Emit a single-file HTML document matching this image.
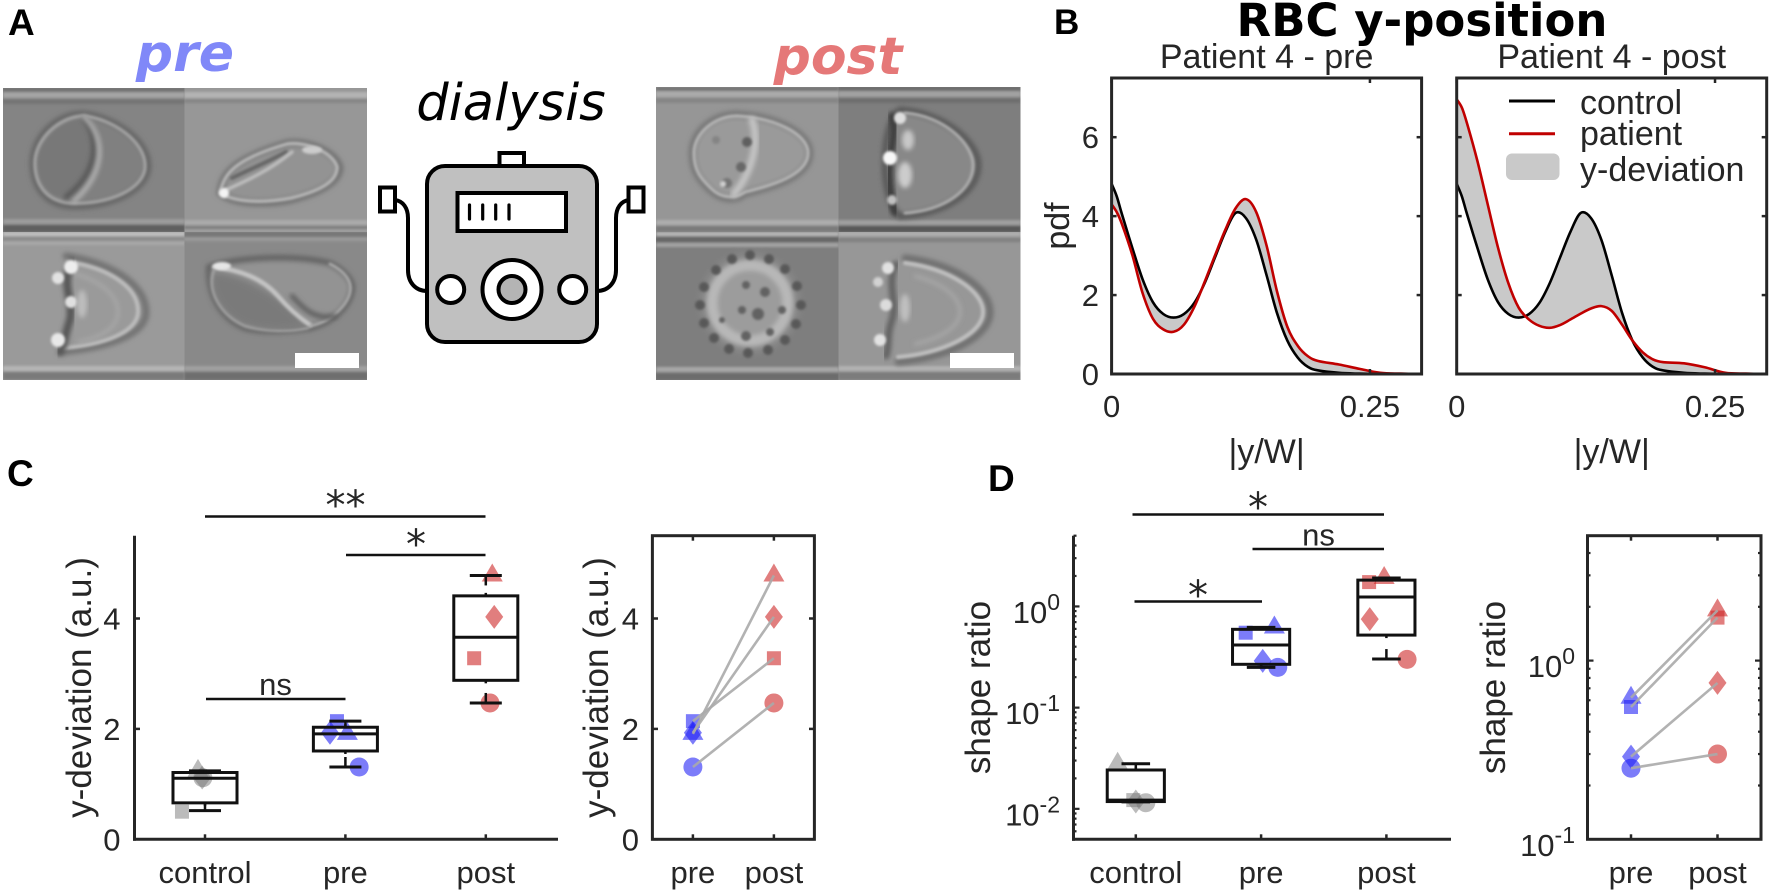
<!DOCTYPE html>
<html lang="en">
<head>
<meta charset="utf-8">
<title>RBC y-position dialysis figure</title>
<style>
html,body{margin:0;padding:0;background:#fff;}
svg{display:block;}
text{font-family:"Liberation Sans",Arial,sans-serif;fill:#262626;}
.dj{font-family:"DejaVu Sans",sans-serif;}
.wall{filter:url(#b1);}
.rim{fill:none;stroke-linecap:round;stroke-linejoin:round;}
</style>
</head>
<body>
<svg id="figure" width="1772" height="893" viewBox="0 0 1772 893" xmlns="http://www.w3.org/2000/svg">
<defs>
<filter id="b1" x="-20%" y="-20%" width="140%" height="140%"><feGaussianBlur stdDeviation="1.4"/></filter>
<filter id="b2" x="-20%" y="-20%" width="140%" height="140%"><feGaussianBlur stdDeviation="2.4"/></filter>
<filter id="b3" x="-30%" y="-30%" width="160%" height="160%"><feGaussianBlur stdDeviation="3.5"/></filter>
<clipPath id="clip-a"><rect x="3" y="88" width="181.5" height="144"/></clipPath>
<clipPath id="clip-b"><rect x="184.5" y="88" width="182.5" height="144"/></clipPath>
<clipPath id="clip-c"><rect x="3" y="232" width="181.5" height="148"/></clipPath>
<clipPath id="clip-d"><rect x="184.5" y="232" width="182.5" height="148"/></clipPath>
<clipPath id="clip-e"><rect x="656" y="87" width="182.5" height="145"/></clipPath>
<clipPath id="clip-f"><rect x="838.5" y="87" width="182" height="145"/></clipPath>
<clipPath id="clip-g"><rect x="656" y="232" width="182.5" height="148"/></clipPath>
<clipPath id="clip-h"><rect x="838.5" y="232" width="182" height="148"/></clipPath>
</defs>
<rect x="0" y="0" width="1772" height="893" fill="#ffffff"/>

<text x="8" y="35" font-size="37" font-weight="700" style="fill:#000">A</text>
<text x="1054" y="34" font-size="35" font-weight="700" style="fill:#000">B</text>
<text x="7" y="486" font-size="37" font-weight="700" style="fill:#000">C</text>
<text x="988" y="491" font-size="37" font-weight="700" style="fill:#000">D</text>
<text class="dj" x="185" y="71" text-anchor="middle" font-size="52" font-weight="700" font-style="italic" style="fill:#8088f8">pre</text>
<text class="dj" x="838" y="74" text-anchor="middle" font-size="52" font-weight="700" font-style="italic" style="fill:#e57878">post</text>
<text class="dj" x="511" y="120" text-anchor="middle" font-size="51" font-style="italic" style="fill:#000">dialysis</text>

<g>
  <g clip-path="url(#clip-a)">
    <rect x="3" y="88" width="181.5" height="144" fill="#848484"/>
    <g class="wall"><rect x="3" y="88" width="182" height="4" fill="#707070"/><rect x="3" y="92" width="182" height="6" fill="#a4a4a4"/><rect x="3" y="99" width="182" height="5" fill="#757575"/><rect x="3" y="219" width="182" height="5" fill="#9c9c9c"/><rect x="3" y="225" width="182" height="7" fill="#5e5e5e"/></g>
    <path d="M84 114C112 117 148 139 148 166C148 191 108 208 70 206C45 204 33 186 33 163C33 136 58 113 84 114Z" fill="#808080" stroke="#666" stroke-width="7" filter="url(#b2)"/>
    <path d="M84 117C106 133 106 171 68 199C45 199 36 183 36 163C36 139 60 117 84 117Z" fill="#787878" filter="url(#b2)"/>
    <path class="rim" d="M84 116C112 119 145 141 145 166C145 189 108 205 70 203C47 201 35 185 35 163C35 139 60 116 84 116" stroke="#a2a2a2" stroke-width="3.5" filter="url(#b1)"/>
    <path class="rim" d="M84 119C100 139 98 173 66 197" stroke="#575757" stroke-width="5" filter="url(#b2)"/>
    <path class="rim" d="M84 117C106 137 106 173 74 201" stroke="#b8b8b8" stroke-width="4" filter="url(#b2)"/>
  </g>
  <g clip-path="url(#clip-b)">
    <rect x="184.5" y="88" width="182.5" height="144" fill="#979797"/>
    <g class="wall"><rect x="184" y="92" width="184" height="6" fill="#b4b4b4"/><rect x="184" y="99" width="184" height="4" fill="#858585"/><rect x="184" y="220" width="184" height="5" fill="#aaaaaa"/><rect x="184" y="226" width="184" height="3" fill="#7c7c7c"/><rect x="184" y="229" width="184" height="3" fill="#a0a0a0"/></g>
    <path d="M220 193C222 175 230 160 287 143C305 140 335 150 340 167C340 178 330 190 291 200C270 204 235 206 220 193Z" fill="#939393" stroke="#727272" stroke-width="7" filter="url(#b2)"/>
    <path class="rim" d="M220 193C224 175 232 160 287 144C305 141 333 152 337 167C337 178 328 189 291 198C270 202 238 204 220 193Z" stroke="#b6b6b6" stroke-width="3.5" filter="url(#b1)"/>
    <path class="rim" d="M232 178C248 170 268 162 286 152" stroke="#666" stroke-width="4" filter="url(#b1)"/>
    <path class="rim" d="M226 190C248 180 270 170 292 152" stroke="#bebebe" stroke-width="3.5" filter="url(#b1)"/>
    <circle cx="224" cy="193" r="5" fill="#f4f4f4" filter="url(#b1)"/><ellipse cx="312" cy="150" rx="10" ry="4" fill="#cccccc" filter="url(#b1)"/>
  </g>
  <g clip-path="url(#clip-c)">
    <rect x="3" y="232" width="181.5" height="148" fill="#9a9a9a"/>
    <g class="wall"><rect x="3" y="232" width="182" height="4" fill="#c0c0c0"/><rect x="3" y="237" width="182" height="4" fill="#8a8a8a"/><rect x="3" y="241" width="182" height="4" fill="#a8a8a8"/><rect x="3" y="366" width="182" height="5" fill="#b6b6b6"/><rect x="3" y="372" width="182" height="8" fill="#7a7a7a"/></g>
    <path class="rim" d="M66 256C112 263 146 285 146 312C146 336 104 348 60 352" stroke="#737373" stroke-width="7" filter="url(#b2)"/>
    <path class="rim" d="M68 262C110 268 138 288 138 311C138 333 102 345 62 348" stroke="#bcbcbc" stroke-width="4" filter="url(#b1)"/>
    <path class="rim" d="M76 274C102 282 118 296 118 312C118 328 100 338 78 342" stroke="#b0b0b0" stroke-width="2" filter="url(#b2)"/>
    <path class="rim" d="M72 262C60 285 74 300 70 320C64 336 66 342 60 352" stroke="#565656" stroke-width="8" filter="url(#b2)"/>
    <circle cx="71" cy="267" r="7" fill="#ededed" filter="url(#b1)"/><circle cx="58" cy="278" r="6" fill="#e2e2e2" filter="url(#b1)"/><circle cx="71" cy="302" r="6" fill="#e0e0e0" filter="url(#b1)"/><circle cx="58" cy="340" r="7" fill="#e8e8e8" filter="url(#b1)"/>
    <ellipse cx="82" cy="304" rx="5" ry="14" fill="#bdbdbd" filter="url(#b2)"/>
  </g>
  <g clip-path="url(#clip-d)">
    <rect x="184.5" y="232" width="182.5" height="148" fill="#898989"/>
    <g class="wall"><rect x="184" y="232" width="184" height="5" fill="#777"/><rect x="184" y="237" width="184" height="4" fill="#9a9a9a"/><rect x="184" y="366" width="184" height="5" fill="#a0a0a0"/><rect x="184" y="372" width="184" height="8" fill="#6e6e6e"/></g>
    <path d="M209 267C235 258 290 254 329 263C345 270 354 282 352 290C350 305 335 322 310 328C280 332 260 332 245 328C225 320 208 300 209 267Z" fill="#939393" stroke="#646464" stroke-width="6" filter="url(#b2)"/>
    <path d="M212 272C240 272 280 295 308 326C280 332 255 330 240 324C222 314 208 295 212 272Z" fill="#7a7a7a" filter="url(#b3)"/>
    <path class="rim" d="M214 267C240 270 262 278 278 296C290 310 300 318 310 325" stroke="#c4c4c4" stroke-width="4.5" filter="url(#b1)"/>
    <path class="rim" d="M330 264C346 272 352 282 350 292C347 306 330 322 310 326" stroke="#aaaaaa" stroke-width="3" filter="url(#b1)"/>
    <path class="rim" d="M214 270C206 292 222 316 245 326C265 332 290 332 308 328" stroke="#a4a4a4" stroke-width="2.5" filter="url(#b1)"/>
    <path class="rim" d="M292 296C305 310 315 320 335 316" stroke="#5c5c5c" stroke-width="4.5" filter="url(#b2)"/>
    <ellipse cx="222" cy="266" rx="9" ry="4" fill="#e6e6e6" filter="url(#b1)"/>
    <rect x="295" y="353" width="64" height="15" fill="#ffffff"/>
  </g>
</g>

<g>
  <g clip-path="url(#clip-e)">
    <rect x="656" y="87" width="182.5" height="145" fill="#969696"/>
    <g class="wall"><rect x="656" y="87" width="183" height="4" fill="#727272"/><rect x="656" y="91" width="183" height="6" fill="#aaaaaa"/><rect x="656" y="98" width="183" height="5" fill="#858585"/><rect x="656" y="220" width="183" height="5" fill="#aeaeae"/><rect x="656" y="226" width="183" height="6" fill="#7a7a7a"/></g>
    <path d="M737 114C775 116 810 132 810 153C810 178 770 188 745 194C735 202 722 200 712 192C698 180 692 170 692 153C692 132 712 114 737 114Z" fill="#9a9a9a" stroke="#787878" stroke-width="7" filter="url(#b2)"/>
    <path class="rim" d="M737 116C775 118 808 134 808 153C808 176 768 186 745 192C735 199 722 198 713 190C700 178 694 170 694 153C694 134 714 116 737 116Z" stroke="#b8b8b8" stroke-width="3" filter="url(#b1)"/>
    <path class="rim" d="M752 120C760 142 752 172 734 194" stroke="#c4c4c4" stroke-width="7" filter="url(#b2)"/>
    <circle cx="747" cy="142" r="5" fill="#5e5e5e" filter="url(#b1)"/><circle cx="741" cy="167" r="5" fill="#686868" filter="url(#b1)"/><circle cx="727" cy="183" r="5" fill="#747474" filter="url(#b1)"/><circle cx="716" cy="140" r="4" fill="#848484" filter="url(#b1)"/>
    <circle cx="723" cy="184" r="3" fill="#d2d2d2" filter="url(#b1)"/>
  </g>
  <g clip-path="url(#clip-f)">
    <rect x="838.5" y="87" width="182" height="145" fill="#7e7e7e"/>
    <g class="wall"><rect x="838" y="87" width="183" height="4" fill="#6a6a6a"/><rect x="838" y="91" width="183" height="6" fill="#a2a2a2"/><rect x="838" y="98" width="183" height="5" fill="#6e6e6e"/><rect x="838" y="220" width="183" height="5" fill="#a0a0a0"/><rect x="838" y="226" width="183" height="6" fill="#585858"/></g>
    <path d="M900 110C945 113 978 143 978 165C978 192 945 214 900 216C880 200 880 125 900 110Z" fill="#888888" stroke="#5a5a5a" stroke-width="7" filter="url(#b2)"/>
    <path class="rim" d="M905 113C945 116 973 145 973 165C973 190 945 210 905 213" stroke="#b0b0b0" stroke-width="3" filter="url(#b1)"/>
    <path class="rim" d="M892 116C900 140 880 160 895 212" stroke="#3e3e3e" stroke-width="8" filter="url(#b2)"/>
    <circle cx="900" cy="118" r="6" fill="#dedede" filter="url(#b1)"/><circle cx="890" cy="158" r="7" fill="#f8f8f8" filter="url(#b1)"/><ellipse cx="908" cy="140" rx="6" ry="10" fill="#c8c8c8" filter="url(#b2)"/><ellipse cx="905" cy="175" rx="7" ry="13" fill="#cccccc" filter="url(#b2)"/><circle cx="892" cy="200" r="5" fill="#c0c0c0" filter="url(#b1)"/>
  </g>
  <g clip-path="url(#clip-g)">
    <rect x="656" y="232" width="182.5" height="148" fill="#7e7e7e"/>
    <g class="wall"><rect x="656" y="232" width="183" height="4" fill="#b8b8b8"/><rect x="656" y="237" width="183" height="5" fill="#666"/><rect x="656" y="243" width="183" height="4" fill="#a4a4a4"/><rect x="656" y="367" width="183" height="5" fill="#a8a8a8"/><rect x="656" y="373" width="183" height="7" fill="#6c6c6c"/></g>
    <circle cx="750" cy="303" r="50" fill="#8a8a8a" filter="url(#b3)"/>
    <circle cx="750" cy="303" r="38" fill="#9c9c9c" stroke="#b8b8b8" stroke-width="11" filter="url(#b2)"/>
    <g fill="#585858" filter="url(#b1)"><circle cx="750" cy="255" r="5"/><circle cx="769" cy="259" r="5"/><circle cx="785" cy="269" r="5"/><circle cx="797" cy="286" r="5"/><circle cx="801" cy="305" r="5"/><circle cx="796" cy="324" r="5"/><circle cx="785" cy="340" r="5"/><circle cx="768" cy="350" r="5"/><circle cx="748" cy="353" r="5"/><circle cx="729" cy="349" r="5"/><circle cx="714" cy="338" r="5"/><circle cx="704" cy="323" r="5"/><circle cx="700" cy="305" r="5"/><circle cx="704" cy="287" r="5"/><circle cx="716" cy="270" r="5"/><circle cx="732" cy="259" r="5"/></g>
    <g fill="#626262" filter="url(#b1)"><circle cx="746" cy="285" r="4"/><circle cx="765" cy="292" r="5"/><circle cx="742" cy="310" r="4"/><circle cx="758" cy="314" r="6"/><circle cx="782" cy="310" r="4"/><circle cx="770" cy="332" r="4"/><circle cx="746" cy="336" r="5"/><circle cx="722" cy="320" r="3"/></g>
  </g>
  <g clip-path="url(#clip-h)">
    <rect x="838.5" y="232" width="182" height="148" fill="#979797"/>
    <g class="wall"><rect x="838" y="232" width="183" height="4" fill="#b0b0b0"/><rect x="838" y="238" width="183" height="4" fill="#808080"/><rect x="838" y="366" width="183" height="5" fill="#b2b2b2"/><rect x="838" y="372" width="183" height="8" fill="#7c7c7c"/></g>
    <path class="rim" d="M905 258C955 264 990 288 990 312C990 338 945 358 898 362" stroke="#707070" stroke-width="7" filter="url(#b2)"/>
    <path class="rim" d="M905 263C950 269 983 291 983 312C983 334 943 353 898 357" stroke="#c0c0c0" stroke-width="4" filter="url(#b1)"/>
    <path class="rim" d="M915 276C945 284 960 298 960 312C960 326 942 338 915 344" stroke="#b2b2b2" stroke-width="2" filter="url(#b2)"/>
    <path class="rim" d="M896 264C886 285 898 300 892 320C886 336 890 345 886 356" stroke="#626262" stroke-width="7" filter="url(#b2)"/>
    <circle cx="888" cy="268" r="6" fill="#e2e2e2" filter="url(#b1)"/><circle cx="878" cy="282" r="5" fill="#d2d2d2" filter="url(#b1)"/><circle cx="886" cy="305" r="6" fill="#dcdcdc" filter="url(#b1)"/><circle cx="880" cy="340" r="6" fill="#e2e2e2" filter="url(#b1)"/><ellipse cx="905" cy="308" rx="5" ry="14" fill="#c0c0c0" filter="url(#b2)"/>
    <rect x="950" y="353" width="64" height="15" fill="#ffffff"/>
  </g>
</g>

<g stroke="#000" stroke-width="4">
  <rect x="499.5" y="153" width="24.5" height="14" fill="#fff"/>
  <rect x="427" y="166" width="170" height="176" rx="18" fill="#c0c0c0"/>
  <rect x="457.5" y="193" width="108.5" height="38" fill="#fff"/>
  <g stroke-width="3.2" stroke-linecap="round"><line x1="469.5" y1="205" x2="469.5" y2="219"/><line x1="482.7" y1="205" x2="482.7" y2="219"/><line x1="495.7" y1="205" x2="495.7" y2="219"/><line x1="509" y1="205" x2="509" y2="219"/></g>
  <circle cx="450.7" cy="289.5" r="13.5" fill="#fff"/>
  <circle cx="572.7" cy="289.5" r="13.5" fill="#fff"/>
  <circle cx="512" cy="289.5" r="29.5" fill="#fff"/>
  <circle cx="512" cy="289.5" r="13.5" fill="#b4b4b4"/>
  <path d="M395 200C403 201 408 208 408 218V270C408 283 416 291 427 291" fill="none"/>
  <path d="M629 200C621 201 616 208 616 218V270C616 283 608 291 597 291" fill="none"/>
  <rect x="380" y="187.5" width="15" height="24" fill="#fff"/>
  <rect x="628.5" y="187.5" width="15" height="24" fill="#fff"/>
</g>

<text class="dj" x="1422" y="36" text-anchor="middle" font-size="45" font-weight="700" style="fill:#000">RBC y-position</text>

<g id="charts"></g>

<g stroke="#111" stroke-width="2.6">
  <line x1="205" y1="516.5" x2="485.5" y2="516.5"/>
  <line x1="346" y1="555" x2="485.5" y2="555"/>
  <line x1="206" y1="699" x2="345.5" y2="699"/>
</g>
<text class="dj" x="345.5" y="519" text-anchor="middle" font-size="40">**</text>
<text class="dj" x="416" y="558" text-anchor="middle" font-size="40">*</text>
<text x="275.5" y="695" text-anchor="middle" font-size="31">ns</text>
<g stroke="#111" stroke-width="2.6">
  <line x1="1132.5" y1="514.5" x2="1384" y2="514.5"/>
  <line x1="1252.5" y1="549" x2="1384" y2="549"/>
  <line x1="1134.5" y1="601.5" x2="1262" y2="601.5"/>
</g>
<text class="dj" x="1258" y="521" text-anchor="middle" font-size="40">*</text>
<text x="1318.5" y="545.5" text-anchor="middle" font-size="31">ns</text>
<text class="dj" x="1198" y="609" text-anchor="middle" font-size="40">*</text>

<script>
// ---- Panel B data ----
const pdfX = [0,.005,.01,.02,.03,.04,.05,.06,.07,.08,.09,.10,.11,.12,.13,.14,.15,.16,.17,.18,.19,.20,.22,.24,.26,.28,.30];
const controlPdf = [4.82,4.5,4.05,3.2,2.4,1.82,1.52,1.43,1.52,1.8,2.3,2.95,3.6,4.08,3.95,3.4,2.5,1.55,.85,.42,.18,.09,.03,.01,0,0,0];
const prePdf = [4.3,4.1,3.8,3.02,2.05,1.4,1.13,1.07,1.25,1.7,2.33,3.0,3.65,4.2,4.43,4.1,3.25,2.1,1.2,.72,.45,.33,.24,.13,.03,.01,0];
const postPdf = [6.96,6.75,6.35,5.4,4.3,3.2,2.3,1.68,1.38,1.22,1.17,1.24,1.38,1.53,1.66,1.72,1.6,1.25,.85,.55,.37,.3,.27,.17,.03,.01,0];
const pdfTicks = [0,2,4,6];
const pdfXTicks = [0,0.25];
const pdfXTickLabels = ['0','0.25'];

// ---- Panel C data ----
const categories = ['control','pre','post'];
const pairedCategories = ['pre','post'];
const devLowCap = [.52,1.31,2.47];
const devQ1 = [.66,1.6,2.88];
const devMedian = [1.105,1.91,3.66];
const devQ3 = [1.21,2.03,4.41];
const devHighCap = [1.24,2.14,4.78];
const devSquare = [.5,2.14,3.28];
const devDiamond = [1.12,1.93,4.03];
const devTriangle = [1.24,1.91,4.78];
const devCircle = [1.115,1.31,2.47];
const devSquareJitter = [-.164,-.06,-.083];
const devDiamondJitter = [-.02,-.11,.06];
const devTriangleJitter = [-.05,.014,.046];
const devCircleJitter = [-.015,.098,.03];
const devTicks = [0,2,4];

// ---- Panel D data ----
const ratioLowCap = [.0117,.25,.302];
const ratioQ1 = [.0118,.268,.521];
const ratioMedian = [.0122,.416,1.24];
const ratioQ3 = [.0242,.594,1.82];
const ratioHighCap = [.0279,.621,1.91];
const ratioSquare = [.0122,.55,1.74];
const ratioDiamond = [.0118,.29,.75];
const ratioTriangle = [.0279,.62,1.91];
const ratioCircle = [.0115,.25,.30];
const ratioSquareJitter = [-.02,-.123,-.138];
const ratioDiamondJitter = [0,.013,-.133];
const ratioTriangleJitter = [-.145,.106,-.018];
const ratioCircleJitter = [.08,.133,.165];
const ratioDecades = [-2,-1,0];
const pairedRatioDecades = [-1,0];

const NS = 'http://www.w3.org/2000/svg';
const root = document.getElementById('charts');
const INK = '#262626';
const TICK_FONT = 31;
const TITLE_FONT = 35;
const groupFill = ['rgba(120,120,120,.5)','rgba(30,30,245,.58)','rgba(205,40,40,.6)'];

function mk(tag, parent) {
  const e = document.createElementNS(NS, tag);
  (parent || root).appendChild(e);
  return e;
}
function seg(x1, y1, x2, y2, w, color, name) {
  const l = mk('line');
  l.setAttribute('x1', x1); l.setAttribute('y1', y1);
  l.setAttribute('x2', x2); l.setAttribute('y2', y2);
  l.setAttribute('stroke', color); l.setAttribute('stroke-width', w);
  
  
  return l;
}
function label(str, x, y, size, anchor, name, rotate) {
  const t = mk('text');
  t.textContent = str;
  t.setAttribute('x', x); t.setAttribute('y', y);
  t.setAttribute('font-size', size);
  t.setAttribute('text-anchor', anchor);
  if (rotate) t.setAttribute('transform', 'rotate(-90 ' + x + ' ' + y + ')');
  
  
  return t;
}
function powerLabel(exp, right, y, size, name) {
  const t = mk('text');
  t.setAttribute('x', right); t.setAttribute('y', y);
  t.setAttribute('font-size', size);
  t.setAttribute('text-anchor', 'end');
  
  
  t.appendChild(document.createTextNode('10'));
  const s = document.createElementNS(NS, 'tspan');
  s.setAttribute('dy', -13);
  s.setAttribute('font-size', 23);
  s.textContent = String(exp);
  t.appendChild(s);
}
function marker(shape, cx, cy, fill, name) {
  let m;
  if (shape === 'circle') {
    m = mk('circle');
    m.setAttribute('cx', cx); m.setAttribute('cy', cy); m.setAttribute('r', 9.5);
  } else if (shape === 'square') {
    m = mk('rect');
    m.setAttribute('x', cx - 7); m.setAttribute('y', cy - 7);
    m.setAttribute('width', 14); m.setAttribute('height', 14);
  } else if (shape === 'diamond') {
    m = mk('polygon');
    m.setAttribute('points', [cx, cy - 12, cx + 9, cy, cx, cy + 12, cx - 9, cy].join(' '));
  } else {
    m = mk('polygon');
    m.setAttribute('points', [cx, cy - 12, cx + 10.5, cy + 6, cx - 10.5, cy + 6].join(' '));
  }
  m.setAttribute('fill', fill);
  
  
}
function smooth(pts, moveFirst) {
  let d = (moveFirst ? 'M' : 'L') + pts[0][0].toFixed(2) + ' ' + pts[0][1].toFixed(2);
  for (let i = 0; i < pts.length - 1; i++) {
    const p0 = pts[Math.max(i - 1, 0)], p1 = pts[i], p2 = pts[i + 1], p3 = pts[Math.min(i + 2, pts.length - 1)];
    const c1x = p1[0] + (p2[0] - p0[0]) / 6, c1y = p1[1] + (p2[1] - p0[1]) / 6;
    const c2x = p2[0] - (p3[0] - p1[0]) / 6, c2y = p2[1] - (p3[1] - p1[1]) / 6;
    d += 'C' + c1x.toFixed(2) + ' ' + c1y.toFixed(2) + ' ' + c2x.toFixed(2) + ' ' + c2y.toFixed(2) + ' ' + p2[0].toFixed(2) + ' ' + p2[1].toFixed(2);
  }
  return d;
}
function frame(l, t, r, b, name) {
  const f = mk('rect');
  f.setAttribute('x', l); f.setAttribute('y', t);
  f.setAttribute('width', r - l); f.setAttribute('height', b - t);
  f.setAttribute('fill', 'none');
  f.setAttribute('stroke', INK); f.setAttribute('stroke-width', 3);
  
  
}

// ---- Panel B ----
function drawPdfPanel(left, patient, panelName) {
  const right = left + 310, top = 78, bottom = 374;
  const sx = v => left + v / 0.3 * (right - left);
  const sy = v => bottom - v / 7.5 * (bottom - top);
  const ctrl = pdfX.map((x, i) => [sx(x), sy(controlPdf[i])]);
  const pat = pdfX.map((x, i) => [sx(x), sy(patient[i])]);
  const area = mk('path');
  area.setAttribute('d', smooth(ctrl, true) + smooth(pat.slice().reverse(), false) + 'Z');
  area.setAttribute('fill', '#c9c9c9');
  
  
  const c = mk('path');
  c.setAttribute('d', smooth(ctrl, true));
  c.setAttribute('fill', 'none'); c.setAttribute('stroke', '#000'); c.setAttribute('stroke-width', 2.6);
  
  
  const p = mk('path');
  p.setAttribute('d', smooth(pat, true));
  p.setAttribute('fill', 'none'); p.setAttribute('stroke', '#c00000'); p.setAttribute('stroke-width', 2.6);
  
  
  pdfTicks.forEach(v => {
    seg(left, sy(v), left + 5, sy(v), 2.5, INK, 'y-tick');
    seg(right, sy(v), right - 5, sy(v), 2.5, INK, 'y-tick');
  });
  pdfXTicks.forEach((v, i) => {
    seg(sx(v), bottom, sx(v), bottom - 5, 2.5, INK, 'x-tick');
    seg(sx(v), top, sx(v), top + 5, 2.5, INK, 'x-tick');
    label(pdfXTickLabels[i], sx(v), 417, TICK_FONT, 'middle', 'x-tick-label');
  });
  frame(left, top, right, bottom, panelName + '-frame');
  label('|y/W|', (left + right) / 2, 463, 34, 'middle', 'x-axis-title');
  label(panelName === 'pdf-pre' ? 'Patient 4 - pre' : 'Patient 4 - post', (left + right) / 2, 68, 34, 'middle', 'panel-title');
  return sy;
}
const syPre = drawPdfPanel(1111.6, prePdf, 'pdf-pre');
pdfTicks.forEach(v => label(String(v), 1099, syPre(v) + 11, TICK_FONT, 'end', 'y-tick-label'));
label('pdf', 1069, 226, 34, 'middle', 'y-axis-title', true);
drawPdfPanel(1456.7, postPdf, 'pdf-post');
seg(1509, 101, 1555, 101, 3, '#000', 'legend-control-line');
seg(1509, 133.7, 1555, 133.7, 3, '#c00000', 'legend-patient-line');
const legendPatch = mk('rect');
legendPatch.setAttribute('x', 1506); legendPatch.setAttribute('y', 153.5);
legendPatch.setAttribute('width', 53.5); legendPatch.setAttribute('height', 26.5);
legendPatch.setAttribute('rx', 6); legendPatch.setAttribute('fill', '#c9c9c9');


label('control', 1580, 114, 34, 'start', 'legend-control-label');
label('patient', 1580, 145, 34, 'start', 'legend-patient-label');
label('y-deviation', 1580, 181, 34, 'start', 'legend-deviation-label');

// ---- Box and marker helper ----
function drawGroups(sx, sy, step, sets, jitters, stats) {
  const shapes = ['triangle', 'circle', 'diamond', 'square'];
  shapes.forEach((shape, k) => {
    sets[k].forEach((v, i) => {
      marker(shape, sx(i) + jitters[k][i] * step, sy(v), groupFill[i], shape + '-' + categories[i]);
    });
  });
  const half = step * 0.228;
  categories.forEach((cat, i) => {
    const c = sx(i);
    const yLow = sy(stats.low[i]), yQ1 = sy(stats.q1[i]), yMed = sy(stats.med[i]), yQ3 = sy(stats.q3[i]), yHigh = sy(stats.high[i]);
    const box = mk('rect');
    box.setAttribute('x', c - half); box.setAttribute('y', yQ3);
    box.setAttribute('width', half * 2); box.setAttribute('height', yQ1 - yQ3);
    box.setAttribute('fill', 'none'); box.setAttribute('stroke', '#111'); box.setAttribute('stroke-width', 3);
    
    
    seg(c - half, yMed, c + half, yMed, 3, '#111', 'median-' + cat);
    seg(c - half / 2, yHigh, c + half / 2, yHigh, 3, '#111', 'upper-cap-' + cat);
    seg(c - half / 2, yLow, c + half / 2, yLow, 3, '#111', 'lower-cap-' + cat);
    seg(c, yHigh, c, Math.min(yHigh + 10, yQ3), 2.5, '#111', 'upper-whisker-' + cat);
    seg(c, yQ3, c, Math.max(yQ3 - 3, yHigh), 2.5, '#111', 'upper-whisker-' + cat);
    seg(c, yLow, c, Math.max(yLow - 10, yQ1), 2.5, '#111', 'lower-whisker-' + cat);
    seg(c, yQ1, c, Math.min(yQ1 + 3, yLow), 2.5, '#111', 'lower-whisker-' + cat);
  });
}
function drawPaired(sx, sy, pre, post, shape) {
  pre.forEach((v, k) => {
    marker(shape[k], sx(0), sy(v), groupFill[1], 'paired-pre-' + shape[k]);
    marker(shape[k], sx(1), sy(post[k]), groupFill[2], 'paired-post-' + shape[k]);
  });
  pre.forEach((v, k) => {
    seg(sx(0), sy(v), sx(1), sy(post[k]), 2.6, 'rgba(170,170,170,.9)', 'paired-line-' + shape[k]);
  });
}
const pairShapes = ['square', 'diamond', 'triangle', 'circle'];

// ---- Panel C ----
const axisTop = 535.7, axisBottom = 839.3;
const syDev = v => axisBottom - v / 5.5 * (axisBottom - axisTop);
const sxC = i => 205 + i * 140.4;
drawGroups(sxC, syDev, 140.4,
  [devTriangle, devCircle, devDiamond, devSquare],
  [devTriangleJitter, devCircleJitter, devDiamondJitter, devSquareJitter],
  {low: devLowCap, q1: devQ1, med: devMedian, q3: devQ3, high: devHighCap});
seg(134.5, axisTop, 134.5, axisBottom + 1.5, 3, INK, 'y-axis-line');
seg(133, axisBottom, 558, axisBottom, 3, INK, 'x-axis-line');
devTicks.forEach(v => {
  seg(134.5, syDev(v), 140, syDev(v), 2.5, INK, 'y-tick');
  label(String(v), 120.5, syDev(v) + 11, TICK_FONT, 'end', 'y-tick-label');
});
categories.forEach((c, i) => {
  seg(sxC(i), axisBottom, sxC(i), axisBottom - 5, 2.5, INK, 'x-tick');
  label(c, sxC(i), 883, TICK_FONT, 'middle', 'x-tick-label');
});
label('y-deviation (a.u.)', 91, 687.5, TITLE_FONT, 'middle', 'y-axis-title', true);

const sxPairC = i => 692.9 + i * 81;
drawPaired(sxPairC, syDev, [devSquare[1], devDiamond[1], devTriangle[1], devCircle[1]], [devSquare[2], devDiamond[2], devTriangle[2], devCircle[2]], pairShapes);
frame(652.4, axisTop, 814.4, axisBottom, 'paired-deviation-frame');
devTicks.forEach(v => {
  seg(652.4, syDev(v), 658, syDev(v), 2.5, INK, 'y-tick');
  seg(814.4, syDev(v), 809, syDev(v), 2.5, INK, 'y-tick');
  label(String(v), 639, syDev(v) + 11, TICK_FONT, 'end', 'y-tick-label');
});
pairedCategories.forEach((c, i) => {
  seg(sxPairC(i), axisBottom, sxPairC(i), axisBottom - 5, 2.5, INK, 'x-tick');
  seg(sxPairC(i), axisTop, sxPairC(i), axisTop + 5, 2.5, INK, 'x-tick');
  label(c, sxPairC(i), 883, TICK_FONT, 'middle', 'x-tick-label');
});
label('y-deviation (a.u.)', 608, 687.5, TITLE_FONT, 'middle', 'y-axis-title', true);

// ---- Panel D ----
const syRatio = v => axisBottom - (Math.log10(v) - Math.log10(0.005)) / 3 * (axisBottom - axisTop);
const sxD = i => 1135.8 + i * 125.3;
drawGroups(sxD, syRatio, 125.3,
  [ratioTriangle, ratioCircle, ratioDiamond, ratioSquare],
  [ratioTriangleJitter, ratioCircleJitter, ratioDiamondJitter, ratioSquareJitter],
  {low: ratioLowCap, q1: ratioQ1, med: ratioMedian, q3: ratioQ3, high: ratioHighCap});
seg(1073.5, axisTop, 1073.5, axisBottom + 1.5, 3, INK, 'y-axis-line');
seg(1072, axisBottom, 1451, axisBottom, 3, INK, 'x-axis-line');
function logTicks(x, dir, sy, from, to) {
  for (let d = from; d <= to; d++) {
    for (let m = 1; m <= 9; m++) {
      const v = m * Math.pow(10, d);
      const y = sy(v);
      if (y < axisTop || y > axisBottom) continue;
      seg(x, y, x + dir * (m === 1 ? 6 : 3), y, 2.2, INK, m === 1 ? 'y-major-tick' : 'y-minor-tick');
    }
  }
}
logTicks(1073.5, 1, syRatio, -3, 0);
ratioDecades.forEach(d => powerLabel(d, 1060, syRatio(Math.pow(10, d)) + 16.5, TICK_FONT, 'y-tick-label'));
categories.forEach((c, i) => {
  seg(sxD(i), axisBottom, sxD(i), axisBottom - 5, 2.5, INK, 'x-tick');
  label(c, sxD(i), 883, TICK_FONT, 'middle', 'x-tick-label');
});
label('shape ratio', 990, 687.5, TITLE_FONT, 'middle', 'y-axis-title', true);

const syPairRatio = v => axisBottom - (Math.log10(v) + 1) / Math.log10(50) * (axisBottom - axisTop);
const sxPairD = i => 1631 + i * 86.5;
drawPaired(sxPairD, syPairRatio, [ratioSquare[1], ratioDiamond[1], ratioTriangle[1], ratioCircle[1]], [ratioSquare[2], ratioDiamond[2], ratioTriangle[2], ratioCircle[2]], pairShapes);
frame(1587.5, axisTop, 1761, axisBottom, 'paired-ratio-frame');
logTicks(1587.5, 1, syPairRatio, -1, 0);
logTicks(1761, -1, syPairRatio, -1, 0);
pairedRatioDecades.forEach(d => powerLabel(d, 1575, syPairRatio(Math.pow(10, d)) + 16.5, TICK_FONT, 'y-tick-label'));
pairedCategories.forEach((c, i) => {
  seg(sxPairD(i), axisBottom, sxPairD(i), axisBottom - 5, 2.5, INK, 'x-tick');
  seg(sxPairD(i), axisTop, sxPairD(i), axisTop + 5, 2.5, INK, 'x-tick');
  label(c, sxPairD(i), 883, TICK_FONT, 'middle', 'x-tick-label');
});
label('shape ratio', 1505, 687.5, TITLE_FONT, 'middle', 'y-axis-title', true);
</script>
</svg>
</body>
</html>
